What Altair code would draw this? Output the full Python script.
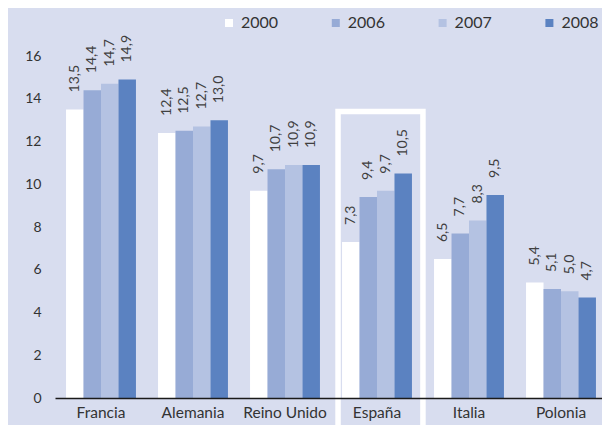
import altair as alt
import pandas as pd

countries = ["Francia", "Alemania", "Reino Unido", "España", "Italia", "Polonia"]
years = ["2000", "2006", "2007", "2008"]
v2000 = [13.5, 12.4, 9.7, 7.3, 6.5, 5.4]
v2006 = [14.4, 12.5, 10.7, 9.4, 7.7, 5.1]
v2007 = [14.7, 12.7, 10.9, 9.7, 8.3, 5.0]
v2008 = [14.9, 13.0, 10.9, 10.5, 9.5, 4.7]
highlight = ["España"]
y_ticks = [0, 2, 4, 6, 8, 10, 12, 14, 16]
colors = ["#ffffff", "#97abd6", "#b4c2e2", "#5b82c1"]

rows = []
for yr, vals in zip(years, [v2000, v2006, v2007, v2008]):
    for c, v in zip(countries, vals):
        rows.append({"country": c, "year": yr, "value": v})
df = pd.DataFrame(rows)

FONT = "Lato"

x_enc = alt.X("country:N", sort=countries,
              scale=alt.Scale(paddingInner=0.24, paddingOuter=0.12, range=[0, 552]),
              axis=alt.Axis(title=None, labelAngle=0, ticks=False, labelFontSize=15.5,
                            labelColor="#333333", labelFont=FONT, labelPadding=14,
                            labelAlign="center", bandPosition=0.5,
                            domainColor="#1a1a1a", domainWidth=1.5, grid=False))
y_scale = alt.Scale(domain=[0, 16], nice=False)

base = alt.Chart(df)

frame = alt.Chart(pd.DataFrame({"country": highlight})).mark_rect(
    fillOpacity=0, stroke="white", strokeWidth=5.5,
    width=alt.RelativeBandSize(85 / 70), xOffset=3.5
).encode(
    x=alt.X("country:N", sort=countries),
    y=alt.Y(datum=13.4),
    y2=alt.value(420),
)

bars = base.mark_bar().encode(
    x=x_enc,
    xOffset=alt.XOffset("year:N", sort=years, scale=alt.Scale(paddingInner=0, paddingOuter=0)),
    y=alt.Y("value:Q", scale=y_scale,
            axis=alt.Axis(title=None, values=y_ticks, ticks=False, domain=False,
                          labelFontSize=14, labelColor="#333333", labelFont=FONT,
                          labelPadding=14, gridColor="#6e6e6e", gridWidth=1)),
    color=alt.Color("year:N", sort=years,
                    scale=alt.Scale(domain=years, range=colors),
                    legend=alt.Legend(orient="none", legendX=166, legendY=-41,
                                      direction="horizontal", title=None,
                                      symbolType="square", symbolSize=64,
                                      symbolStrokeWidth=0, labelFontSize=16,
                                      labelFont=FONT, labelColor="#333333",
                                      labelOffset=4, columnPadding=48.8, padding=0)),
)

labels = base.transform_calculate(
    label="replace(format(datum.value, '.1f'), '.', ',')"
).mark_text(angle=270, align="left", baseline="middle", dx=17, fontSize=14,
            font=FONT, color="#404040").encode(
    x=alt.X("country:N", sort=countries),
    xOffset=alt.XOffset("year:N", sort=years),
    y=alt.Y("value:Q"),
    text="label:N",
)

chart = alt.layer(frame, bars, labels).properties(
    width=547, height=342,
    padding={"left": 47, "top": 48, "right": 0, "bottom": 27},
    autosize=alt.AutoSizeParams(type="none"),
).configure(background="#d8ddef").configure_view(stroke=None)

chart.save("out.html", embed_options={"renderer": "svg", "actions": False})
